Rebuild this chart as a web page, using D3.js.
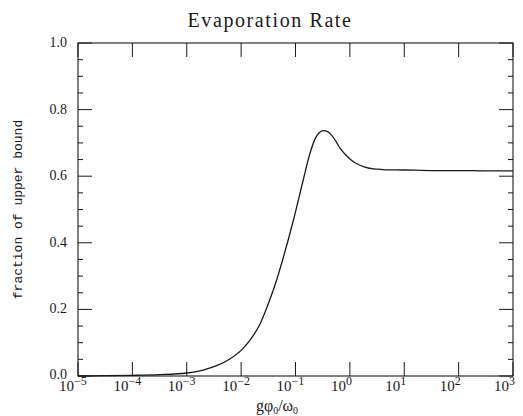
<!DOCTYPE html>
<html><head><meta charset="utf-8">
<script src="https://cdn.jsdelivr.net/npm/d3@7"></script>
<style>body{margin:0;background:#fff}svg{display:block}</style>
</head><body>
<script>
const title = "Evaporation Rate";
const yTitle = "fraction of upper bound";
// curve: log10(g phi0 / omega0) and fraction of upper bound
const logX = [-5, -4.5, -4, -3.5, -3, -2.7, -2.45, -2.2, -2, -1.84, -1.65, -1.5, -1.35, -1.24, -1.04, -0.86, -0.74, -0.64, -0.56, -0.49, -0.41, -0.33, -0.25, -0.18, -0.1, 0, 0.12, 0.25, 0.43, 0.6, 0.86, 1.2, 1.6, 2, 2.5, 3];
const fracY = [0.000, 0.001, 0.002, 0.004, 0.009, 0.018, 0.031, 0.052, 0.077, 0.107, 0.157, 0.217, 0.287, 0.347, 0.467, 0.587, 0.665, 0.712, 0.731, 0.737, 0.734, 0.722, 0.703, 0.684, 0.668, 0.652, 0.638, 0.629, 0.622, 0.620, 0.619, 0.618, 0.617, 0.617, 0.616, 0.616];
const xTickExps = [-5, -4, -3, -2, -1, 0, 1, 2, 3];
const yTicks = [0, 0.2, 0.4, 0.6, 0.8, 1.0];
const yMinor = d3.range(0, 1.0001, 0.05);

const W = 523, H = 416;
const m = {left: 78, right: 10, top: 43, bottom: 40};
const svg = d3.select("body").append("svg").attr("width", W).attr("height", H);
const x = d3.scaleLog().domain([1e-5, 1e3]).range([m.left, W - m.right]);
const y = d3.scaleLinear().domain([0, 1]).range([H - m.bottom, m.top]);
const col = "#1a1a1a";
const x0 = x.range()[0], x1 = x.range()[1], y0 = y.range()[0], y1 = y.range()[1];

// frame
svg.append("rect").attr("x", x0).attr("y", y1).attr("width", x1 - x0).attr("height", y0 - y1)
  .attr("fill", "none").attr("stroke", col).attr("stroke-width", 1.1);

const g = svg.append("g").attr("stroke", col).attr("stroke-width", 1);
// y ticks left and right
yMinor.forEach(v => {
  const major = yTicks.some(t => Math.abs(t - v) < 1e-6);
  const len = major ? 14 : 5;
  g.append("line").attr("x1", x0).attr("x2", x0 + len).attr("y1", y(v)).attr("y2", y(v));
  g.append("line").attr("x1", x1).attr("x2", x1 - len).attr("y1", y(v)).attr("y2", y(v));
});
// x ticks bottom and top
xTickExps.forEach(e => {
  const px = x(Math.pow(10, e));
  g.append("line").attr("x1", px).attr("x2", px).attr("y1", y0).attr("y2", y0 - 14);
  g.append("line").attr("x1", px).attr("x2", px).attr("y1", y1).attr("y2", y1 + 14);
});

// y tick labels
svg.append("g").selectAll("text").data(yTicks).join("text")
  .attr("x", x0 - 11).attr("y", d => y(d) + (d === 0 ? 3 : 4))
  .attr("text-anchor", "end").attr("font-family", "Liberation Serif, serif")
  .attr("font-size", 14).attr("fill", col).text(d => d.toFixed(1));

// x tick labels 10^e
const xl = svg.append("g").attr("font-family", "Liberation Serif, serif").attr("fill", col);
xTickExps.forEach(e => {
  const px = x(Math.pow(10, e));
  xl.append("text").attr("x", px - 4).attr("y", y0 + 15).attr("text-anchor", "end")
    .attr("font-size", 15).text("10");
  xl.append("text").attr("x", px - 4).attr("y", y0 + 9).attr("text-anchor", "start")
    .attr("font-size", 12).text(e < 0 ? "\u2212" + Math.abs(e) : String(e));
});

// curve
const line = d3.line().x(d => x(Math.pow(10, d))).y((d, i) => y(fracY[i])).curve(d3.curveMonotoneX);
svg.append("path").datum(logX).attr("d", line).attr("fill", "none")
  .attr("stroke", col).attr("stroke-width", 1.3);

// title
svg.append("text").attr("x", 270).attr("y", 27).attr("text-anchor", "middle")
  .attr("font-family", "Liberation Serif, serif").attr("font-size", 20).attr("letter-spacing", 1.6)
  .attr("fill", col).text(title);
// y title
svg.append("text").attr("transform", "translate(22," + ((y0 + y1) / 2) + ") rotate(-90)")
  .attr("text-anchor", "middle").attr("font-family", "Liberation Mono, monospace")
  .attr("font-size", 13).attr("fill", col).text(yTitle);
// x title g phi0 / omega0
const xt = svg.append("text").attr("x", 277).attr("y", 411).attr("text-anchor", "middle")
  .attr("font-family", "Liberation Serif, serif").attr("font-size", 16).attr("fill", col);
xt.append("tspan").text("g\u03C6");
xt.append("tspan").attr("font-size", 10).attr("dy", 3).text("0");
xt.append("tspan").attr("dy", -3).text("/\u03C9");
xt.append("tspan").attr("font-size", 10).attr("dy", 3).text("0");
</script>
</body></html>
